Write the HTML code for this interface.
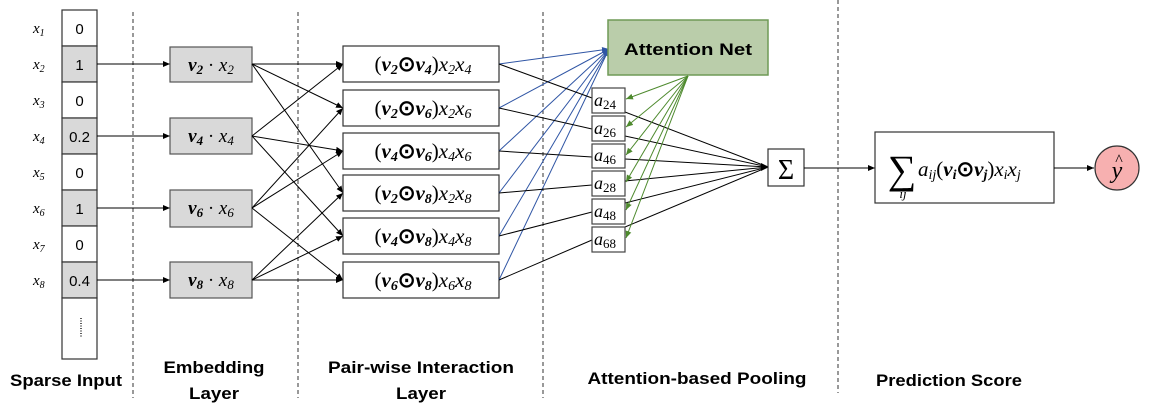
<!DOCTYPE html>
<html><head><meta charset="utf-8"><style>
html,body{margin:0;padding:0;background:#fff;width:1157px;height:410px;overflow:hidden}
svg{display:block}
.m{font-family:"Liberation Serif",serif;font-style:italic}
.b{font-family:"Liberation Sans",sans-serif;font-weight:bold;font-size:17px}
.n{font-family:"Liberation Sans",sans-serif;font-size:15px}
</style></head><body>
<svg width="1157" height="410" viewBox="0 0 1157 410" xmlns="http://www.w3.org/2000/svg">
<defs>
<marker id="ak" markerWidth="8" markerHeight="8" refX="7" refY="4" orient="auto" markerUnits="userSpaceOnUse"><path d="M0,1 L7,4 L0,7z" fill="#000"/></marker>
<marker id="ab" markerWidth="8" markerHeight="8" refX="7" refY="4" orient="auto" markerUnits="userSpaceOnUse"><path d="M0,1 L7,4 L0,7z" fill="#2f55a4"/></marker>
<marker id="ag" markerWidth="8" markerHeight="8" refX="7" refY="4" orient="auto" markerUnits="userSpaceOnUse"><path d="M0,1 L7,4 L0,7z" fill="#4e8a2e"/></marker>
</defs>
<g stroke="#333" stroke-width="1" stroke-dasharray="4,3">
<line x1="133" y1="12" x2="133" y2="398"/><line x1="298" y1="12" x2="298" y2="398"/>
<line x1="543" y1="12" x2="543" y2="398"/><line x1="838" y1="0" x2="838" y2="393"/>
</g>
<g stroke="#333" stroke-width="1.2">
<rect x="62" y="10" width="35" height="36" fill="#fff"/>
<rect x="62" y="46" width="35" height="36" fill="#d9d9d9"/>
<rect x="62" y="82" width="35" height="36" fill="#fff"/>
<rect x="62" y="118" width="35" height="36" fill="#d9d9d9"/>
<rect x="62" y="154" width="35" height="36" fill="#fff"/>
<rect x="62" y="190" width="35" height="36" fill="#d9d9d9"/>
<rect x="62" y="226" width="35" height="36" fill="#fff"/>
<rect x="62" y="262" width="35" height="36" fill="#d9d9d9"/>
<rect x="62" y="298" width="35" height="61" fill="#fff"/>
</g>
<g class="n" text-anchor="middle" fill="#000">
<text x="79.5" y="34">0</text><text x="79.5" y="70">1</text><text x="79.5" y="106">0</text><text x="79.5" y="142">0.2</text>
<text x="79.5" y="178">0</text><text x="79.5" y="214">1</text><text x="79.5" y="250">0</text><text x="79.5" y="286">0.4</text>
</g>
<line x1="81" y1="318" x2="81" y2="338" stroke="#000" stroke-width="1.3" stroke-dasharray="1,1.5"/>
<g class="m" font-size="15" fill="#000">
<text x="33" y="33">x<tspan font-size="10" dy="3">1</tspan></text>
<text x="33" y="69">x<tspan font-size="10" dy="3">2</tspan></text>
<text x="33" y="105">x<tspan font-size="10" dy="3">3</tspan></text>
<text x="33" y="141">x<tspan font-size="10" dy="3">4</tspan></text>
<text x="33" y="177">x<tspan font-size="10" dy="3">5</tspan></text>
<text x="33" y="213">x<tspan font-size="10" dy="3">6</tspan></text>
<text x="33" y="249">x<tspan font-size="10" dy="3">7</tspan></text>
<text x="33" y="285">x<tspan font-size="10" dy="3">8</tspan></text>
</g>
<g stroke="#000" stroke-width="1" marker-end="url(#ak)">
<line x1="97" y1="64" x2="170" y2="64"/><line x1="97" y1="136" x2="170" y2="136"/>
<line x1="97" y1="208" x2="170" y2="208"/><line x1="97" y1="280" x2="170" y2="280"/>
</g>
<g stroke="#555" stroke-width="1.2" fill="#d9d9d9">
<rect x="170" y="47" width="82" height="35"/><rect x="170" y="118" width="82" height="36"/>
<rect x="170" y="190" width="82" height="37"/><rect x="170" y="262" width="82" height="36"/>
</g>
<g class="m" font-size="19" fill="#000" text-anchor="middle">
<text x="211" y="71"><tspan font-weight="bold">v<tspan font-size="13" dy="3">2</tspan></tspan><tspan dy="-3" font-style="normal"> · </tspan>x<tspan font-size="13" dy="3">2</tspan></text>
<text x="211" y="142"><tspan font-weight="bold">v<tspan font-size="13" dy="3">4</tspan></tspan><tspan dy="-3" font-style="normal"> · </tspan>x<tspan font-size="13" dy="3">4</tspan></text>
<text x="211" y="214"><tspan font-weight="bold">v<tspan font-size="13" dy="3">6</tspan></tspan><tspan dy="-3" font-style="normal"> · </tspan>x<tspan font-size="13" dy="3">6</tspan></text>
<text x="211" y="286"><tspan font-weight="bold">v<tspan font-size="13" dy="3">8</tspan></tspan><tspan dy="-3" font-style="normal"> · </tspan>x<tspan font-size="13" dy="3">8</tspan></text>
</g>
<g stroke="#000" stroke-width="1" marker-end="url(#ak)">
<line x1="252" y1="64" x2="343" y2="64"/><line x1="252" y1="64" x2="343" y2="108"/><line x1="252" y1="64" x2="343" y2="193"/>
<line x1="252" y1="136" x2="343" y2="64"/><line x1="252" y1="136" x2="343" y2="151"/><line x1="252" y1="136" x2="343" y2="236"/>
<line x1="252" y1="208" x2="343" y2="108"/><line x1="252" y1="208" x2="343" y2="151"/><line x1="252" y1="208" x2="343" y2="280"/>
<line x1="252" y1="280" x2="343" y2="193"/><line x1="252" y1="280" x2="343" y2="236"/><line x1="252" y1="280" x2="343" y2="280"/>
</g>
<g stroke="#333" stroke-width="1.2" fill="#fff">
<rect x="343" y="46" width="156" height="36"/><rect x="343" y="90" width="156" height="36"/>
<rect x="343" y="133" width="156" height="36"/><rect x="343" y="175" width="156" height="36"/>
<rect x="343" y="218" width="156" height="36"/><rect x="343" y="262" width="156" height="36"/>
</g>
<g class="m" font-size="21" fill="#000" text-anchor="middle">
<text x="423" y="71"><tspan font-style="normal">(</tspan><tspan font-weight="bold">v<tspan font-size="14" dy="3">2</tspan><tspan dy="-3" font-style="normal">⊙</tspan>v<tspan font-size="14" dy="3">4</tspan></tspan><tspan dy="-3" font-style="normal">)</tspan>x<tspan font-size="14" dy="3">2</tspan><tspan dy="-3">x</tspan><tspan font-size="14" dy="3">4</tspan></text>
<text x="423" y="115"><tspan font-style="normal">(</tspan><tspan font-weight="bold">v<tspan font-size="14" dy="3">2</tspan><tspan dy="-3" font-style="normal">⊙</tspan>v<tspan font-size="14" dy="3">6</tspan></tspan><tspan dy="-3" font-style="normal">)</tspan>x<tspan font-size="14" dy="3">2</tspan><tspan dy="-3">x</tspan><tspan font-size="14" dy="3">6</tspan></text>
<text x="423" y="158"><tspan font-style="normal">(</tspan><tspan font-weight="bold">v<tspan font-size="14" dy="3">4</tspan><tspan dy="-3" font-style="normal">⊙</tspan>v<tspan font-size="14" dy="3">6</tspan></tspan><tspan dy="-3" font-style="normal">)</tspan>x<tspan font-size="14" dy="3">4</tspan><tspan dy="-3">x</tspan><tspan font-size="14" dy="3">6</tspan></text>
<text x="423" y="200"><tspan font-style="normal">(</tspan><tspan font-weight="bold">v<tspan font-size="14" dy="3">2</tspan><tspan dy="-3" font-style="normal">⊙</tspan>v<tspan font-size="14" dy="3">8</tspan></tspan><tspan dy="-3" font-style="normal">)</tspan>x<tspan font-size="14" dy="3">2</tspan><tspan dy="-3">x</tspan><tspan font-size="14" dy="3">8</tspan></text>
<text x="423" y="243"><tspan font-style="normal">(</tspan><tspan font-weight="bold">v<tspan font-size="14" dy="3">4</tspan><tspan dy="-3" font-style="normal">⊙</tspan>v<tspan font-size="14" dy="3">8</tspan></tspan><tspan dy="-3" font-style="normal">)</tspan>x<tspan font-size="14" dy="3">4</tspan><tspan dy="-3">x</tspan><tspan font-size="14" dy="3">8</tspan></text>
<text x="423" y="287"><tspan font-style="normal">(</tspan><tspan font-weight="bold">v<tspan font-size="14" dy="3">6</tspan><tspan dy="-3" font-style="normal">⊙</tspan>v<tspan font-size="14" dy="3">8</tspan></tspan><tspan dy="-3" font-style="normal">)</tspan>x<tspan font-size="14" dy="3">6</tspan><tspan dy="-3">x</tspan><tspan font-size="14" dy="3">8</tspan></text>
</g>
<g stroke="#2f55a4" stroke-width="1" marker-end="url(#ab)">
<line x1="499" y1="64" x2="609" y2="49"/><line x1="499" y1="108" x2="609" y2="49"/><line x1="499" y1="151" x2="609" y2="49"/>
<line x1="499" y1="193" x2="609" y2="49"/><line x1="499" y1="236" x2="609" y2="49"/><line x1="499" y1="280" x2="609" y2="49"/>
</g>
<g stroke="#000" stroke-width="1" fill="none">
<polyline points="499,64 592,98 625,112 768,167"/>
<polyline points="499,108 592,129 625,136 768,167"/>
<polyline points="499,151 592,157 625,159 768,167"/>
<polyline points="499,193 592,185 625,181 768,167"/>
<polyline points="499,236 592,212 625,203 768,167"/>
<polyline points="499,280 592,240 625,227 768,167"/>
</g>
<path d="M761,163 L769,167 L761,171z" fill="#000"/>
<rect x="608" y="20" width="160" height="55" fill="#bacdaa" stroke="#6f9a56" stroke-width="1.5"/>
<text x="688" y="55" class="b" font-size="19" text-anchor="middle" textLength="128" lengthAdjust="spacingAndGlyphs">Attention Net</text>
<g stroke="#444" stroke-width="1.2" fill="#fff">
<rect x="592" y="88" width="33" height="25"/><rect x="592" y="116" width="33" height="25"/>
<rect x="592" y="144" width="33" height="24"/><rect x="592" y="171" width="33" height="25"/>
<rect x="592" y="199" width="33" height="25"/><rect x="592" y="227" width="33" height="25"/>
</g>
<g class="m" font-size="18" fill="#000">
<text x="594" y="106">a<tspan font-style="normal" font-size="13" dy="3">24</tspan></text>
<text x="594" y="134">a<tspan font-style="normal" font-size="13" dy="3">26</tspan></text>
<text x="594" y="161">a<tspan font-style="normal" font-size="13" dy="3">46</tspan></text>
<text x="594" y="189">a<tspan font-style="normal" font-size="13" dy="3">28</tspan></text>
<text x="594" y="217">a<tspan font-style="normal" font-size="13" dy="3">48</tspan></text>
<text x="594" y="245">a<tspan font-style="normal" font-size="13" dy="3">68</tspan></text>
</g>
<g stroke="#4e8a2e" stroke-width="1" marker-end="url(#ag)">
<line x1="688" y1="76" x2="626" y2="99"/><line x1="688" y1="76" x2="626" y2="127"/><line x1="688" y1="76" x2="626" y2="155"/>
<line x1="688" y1="76" x2="626" y2="182"/><line x1="688" y1="76" x2="626" y2="210"/><line x1="688" y1="76" x2="626" y2="238"/>
</g>
<rect x="768" y="149" width="36" height="37" fill="#fff" stroke="#333" stroke-width="1.2"/>
<text x="786" y="179" font-family="Liberation Serif,serif" font-size="28" text-anchor="middle">Σ</text>
<line x1="804" y1="168" x2="875" y2="168" stroke="#000" stroke-width="1" marker-end="url(#ak)"/>
<rect x="875" y="132" width="179" height="71" fill="#fff" stroke="#333" stroke-width="1.2"/>
<text x="902" y="183" font-family="Liberation Serif,serif" font-size="40" text-anchor="middle">∑</text>
<text x="903" y="198" class="m" font-size="13" text-anchor="middle">ij</text>
<text x="918" y="176" class="m" font-size="21">a<tspan font-size="14" dy="3">ij</tspan><tspan dy="-3" font-style="normal">(</tspan><tspan font-weight="bold">v<tspan font-size="14" dy="3">i</tspan><tspan dy="-3" font-style="normal">⊙</tspan>v<tspan font-size="14" dy="3">j</tspan></tspan><tspan dy="-3" font-style="normal">)</tspan>x<tspan font-size="14" dy="3">i</tspan><tspan dy="-3">x</tspan><tspan font-size="14" dy="3">j</tspan></text>
<line x1="1054" y1="168" x2="1094" y2="168" stroke="#000" stroke-width="1" marker-end="url(#ak)"/>
<circle cx="1117" cy="168" r="22" fill="#f7b0b0" stroke="#333" stroke-width="1.2"/>
<text x="1117" y="178" class="m" font-size="24" text-anchor="middle">y</text>
<text x="1119" y="165" font-family="Liberation Serif,serif" font-size="16" text-anchor="middle">^</text>
<g class="b" fill="#000" text-anchor="middle">
<text x="66" y="386" textLength="112" lengthAdjust="spacingAndGlyphs">Sparse Input</text>
<text x="214" y="373" textLength="101" lengthAdjust="spacingAndGlyphs">Embedding</text>
<text x="214" y="399" textLength="50" lengthAdjust="spacingAndGlyphs">Layer</text>
<text x="421" y="373" textLength="186" lengthAdjust="spacingAndGlyphs">Pair-wise Interaction</text>
<text x="421" y="399" textLength="50" lengthAdjust="spacingAndGlyphs">Layer</text>
<text x="697" y="384" textLength="219" lengthAdjust="spacingAndGlyphs">Attention-based Pooling</text>
<text x="949" y="386" textLength="146" lengthAdjust="spacingAndGlyphs">Prediction Score</text>
</g>
</svg>
</body></html>
